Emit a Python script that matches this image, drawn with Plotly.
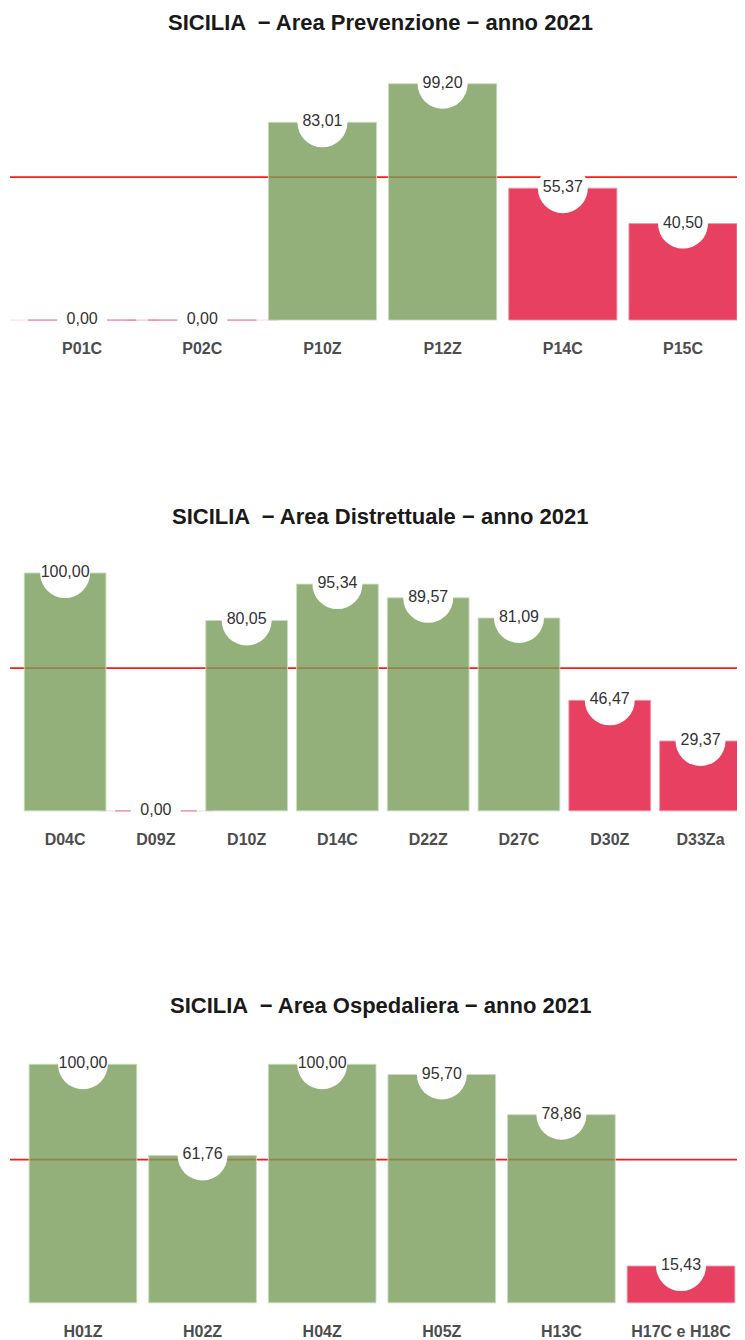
import plotly.graph_objects as go

# ---------------- data ----------------
title_prev = "SICILIA  − Area Prevenzione − anno 2021"
cat_prev = ["P01C", "P02C", "P10Z", "P12Z", "P14C", "P15C"]
val_prev = [0.00, 0.00, 83.01, 99.20, 55.37, 40.50]

title_dist = "SICILIA  − Area Distrettuale − anno 2021"
cat_dist = ["D04C", "D09Z", "D10Z", "D14C", "D22Z", "D27C", "D30Z", "D33Za"]
val_dist = [100.00, 0.00, 80.05, 95.34, 89.57, 81.09, 46.47, 29.37]

title_osp = "SICILIA  − Area Ospedaliera − anno 2021"
cat_osp = ["H01Z", "H02Z", "H04Z", "H05Z", "H13C", "H17C e H18C"]
val_osp = [100.00, 61.76, 100.00, 95.70, 78.86, 15.43]

THRESHOLD = 60

# ---------------- style ----------------
# the page body has an 8px default margin, so the figure is sized to fit
W, H = 737, 1332
GREEN = "rgba(120,156,89,0.8)"
RED = "rgba(226,16,56,0.8)"
GREEN_EDGE = "rgba(200,220,190,0.9)"
RED_EDGE = "rgba(240,150,170,0.9)"
ZERO_LINE = "rgba(232,64,96,0.14)"
X_LEFT_PX = 2
BAR_W = 0.9
FONT = "Liberation Sans, Arial, sans-serif"

panels = [
    dict(title=title_prev, cats=cat_prev, vals=val_prev,
         xr=[-0.6, 5.516], ydom=[0.7616, 0.9516], title_y=1 - 15 / H),
    dict(title=title_dist, cats=cat_dist, vals=val_dist,
         xr=[-0.607, 7.49], ydom=[0.3923, 0.5820], title_y=1 - 510 / H),
    dict(title=title_osp, cats=cat_osp, vals=val_osp,
         xr=[-0.61, 5.535], ydom=[0.0221, 0.2124], title_y=1 - 1000 / H),
]

fig = go.Figure()
layout = dict(
    width=W, height=H, margin=dict(l=0, r=0, t=0, b=0),
    paper_bgcolor="white", plot_bgcolor="white", showlegend=False,
    bargap=1 - BAR_W, annotations=[], shapes=[],
    font=dict(family=FONT),
)

plot_w_px = W - X_LEFT_PX
for i, p in enumerate(panels):
    n = i + 1
    xa = "x" if n == 1 else f"x{n}"
    ya = "y" if n == 1 else f"y{n}"
    cats, vals = p["cats"], p["vals"]
    colors = [GREEN if v >= THRESHOLD else RED for v in vals]
    edges = [GREEN_EDGE if v >= THRESHOLD else RED_EDGE for v in vals]
    idx = list(range(len(cats)))

    fig.add_trace(go.Bar(
        x=idx, y=vals, xaxis=xa, yaxis=ya, width=BAR_W,
        marker=dict(color=colors, line=dict(color=edges, width=1)),
        hoverinfo="skip"))

    # thin outline for zero-height bars
    zx = [k for k, v in zip(idx, vals) if v == 0]
    zy = [v for v in vals if v == 0]
    span = p["xr"][1] - p["xr"][0]
    bar_px = BAR_W * plot_w_px / span
    if zx:
        fig.add_trace(go.Scatter(
            x=zx, y=zy, xaxis=xa, yaxis=ya, mode="markers",
            marker=dict(symbol="line-ew", size=bar_px,
                        line=dict(color=ZERO_LINE, width=1.2)),
            hoverinfo="skip"))

    # white circles with value labels
    fig.add_trace(go.Scatter(
        x=idx, y=vals, xaxis=xa, yaxis=ya, mode="markers+text",
        marker=dict(symbol="circle", size=50, color="white",
                    line=dict(width=0)),
        text=[f"{v:.2f}".replace(".", ",") for v in vals],
        textposition="middle center",
        textfont=dict(size=16, color="#333333", family=FONT),
        hoverinfo="skip", cliponaxis=False))

    layout["xaxis" if n == 1 else f"xaxis{n}"] = dict(
        domain=[X_LEFT_PX / W, 1], range=p["xr"], anchor=ya,
        tickmode="array", tickvals=idx, ticktext=cats,
        showgrid=False, zeroline=False, showline=False, ticks="",
        ticklabelstandoff=12,
        tickfont=dict(size=16, color="#4D4D4D", family=FONT, weight="bold"),
    )
    layout["yaxis" if n == 1 else f"yaxis{n}"] = dict(
        domain=p["ydom"], range=[-2, 104], anchor=xa,
        showgrid=False, zeroline=False, showline=False,
        showticklabels=False, ticks="",
    )
    layout["shapes"].append(dict(
        type="line", xref=f"{xa} domain", yref=ya, x0=0, x1=1,
        y0=THRESHOLD, y1=THRESHOLD, layer="below",
        line=dict(color="#FF1A1A", width=1.8)))
    layout["annotations"].append(dict(
        text=f"<b>{p['title']}</b>", xref="paper", yref="paper",
        x=372 / W, y=p["title_y"], xanchor="center", yanchor="middle",
        showarrow=False,
        font=dict(size=22, color="#1a1a1a", family=FONT)))

fig.update_layout(**layout)
fig.write_html("out.html")
